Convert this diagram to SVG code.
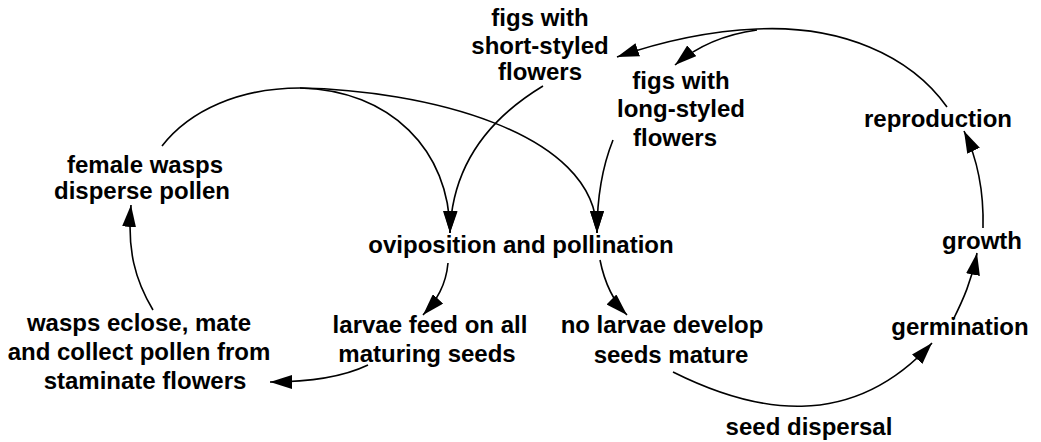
<svg xmlns="http://www.w3.org/2000/svg" width="1041" height="442" viewBox="0 0 1041 442">
<style>
text{font-family:"Liberation Sans",Arial,Helvetica,sans-serif;font-weight:bold;font-size:24px;fill:#000;text-anchor:middle}
.c{fill:none;stroke:#000;stroke-width:1.6}
.a{marker-end:url(#ah)}
</style>
<defs>
<marker id="ah" markerUnits="userSpaceOnUse" markerWidth="24" markerHeight="14" refX="22" refY="7" orient="auto" viewBox="0 0 24 14">
<path d="M0,0 L22,7 L0,14 Z" fill="#000"/>
</marker>
</defs>
<rect width="1041" height="442" fill="#fff"/>
<g id="connectors">
<path class="c" d="M162,146 C190,110 240,88 300,88"/>
<path class="c a" d="M300,88 C390,90 450,150 450,233"/>
<path class="c a" d="M300,88 C420,90 597,130 597,233"/>
<path class="c a" d="M543,86 C495,115 452,160 450,233"/>
<path class="c a" d="M613,140 C603,165 597,195 597,233"/>
<path class="c a" d="M448,263 C446,285 437,300 423,315"/>
<path class="c a" d="M600,260 C605,285 614,302 627,315"/>
<path class="c a" d="M368,365 C345,376 310,382 270,382"/>
<path class="c a" d="M153,310 C135,280 127,250 131,205"/>
<path class="c a" d="M673,372 C753,412 850,433 932,343"/>
<path class="c a" d="M953,320 C963,300 972,280 977,253"/>
<path class="c a" d="M983,228 C984,190 978,160 964,131"/>
<path class="c a" d="M947,107 C910,55 840,25 757,29 C710,31 660,42 617,57"/>
<path class="c a" d="M757,30 C720,35 695,48 675,65"/>
</g>
<g id="fig-short"><text x="540" y="26">figs with</text><text x="540" y="54">short-styled</text><text x="540" y="80">flowers</text></g>
<g id="fig-long"><text x="681" y="89">figs with</text><text x="681" y="117">long-styled</text><text x="675" y="146">flowers</text></g>
<g id="reproduction"><text x="938" y="127">reproduction</text></g>
<g id="growth"><text x="982" y="249">growth</text></g>
<g id="germination"><text x="960" y="335">germination</text></g>
<g id="seed-dispersal"><text x="809" y="435">seed dispersal</text></g>
<g id="no-larvae"><text x="662" y="333">no larvae develop</text><text x="671" y="363">seeds mature</text></g>
<g id="oviposition"><text x="521" y="253">oviposition and pollination</text></g>
<g id="larvae-feed"><text x="430" y="333">larvae feed on all</text><text x="427" y="362">maturing seeds</text></g>
<g id="wasps-eclose"><text x="139" y="331">wasps eclose, mate</text><text x="139" y="360">and collect pollen from</text><text x="145" y="389">staminate flowers</text></g>
<g id="female-wasps"><text x="145" y="173">female wasps</text><text x="142" y="199">disperse pollen</text></g>
</svg>
